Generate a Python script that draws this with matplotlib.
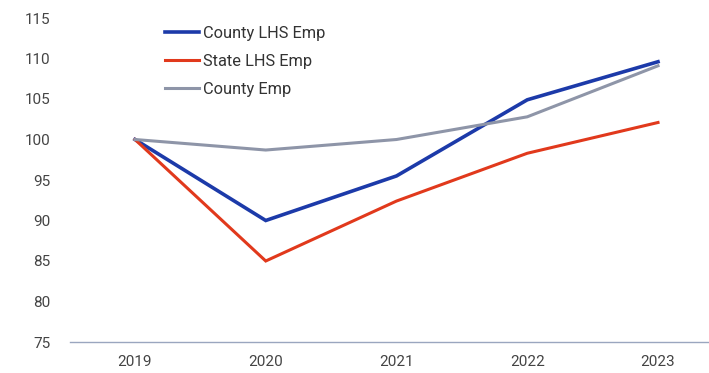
import matplotlib
matplotlib.use("Agg")
import matplotlib.pyplot as plt

years = [2019, 2020, 2021, 2022, 2023]
county_lhs_emp = [100.0, 90.0, 95.5, 104.9, 109.6]
state_lhs_emp = [100.0, 85.0, 92.4, 98.3, 102.1]
county_emp = [100.0, 98.7, 100.0, 102.8, 109.1]
y_ticks = [75, 80, 85, 90, 95, 100, 105, 110, 115]

plt.rcParams['font.family'] = ['Roboto', 'DejaVu Sans']

fig = plt.figure(figsize=(7.09, 3.73), dpi=100)
ax = fig.add_axes([70 / 709, 1 - 342 / 373, 1 - 70 / 709, (342 - 18) / 373])

ax.plot(years, county_lhs_emp, color='#1c3aa9', lw=2.6, label='County LHS Emp', solid_joinstyle='miter')
ax.plot(years, state_lhs_emp, color='#e1391c', lw=2.2, label='State LHS Emp', solid_joinstyle='miter')
ax.plot(years, county_emp, color='#8e95a8', lw=2.2, label='County Emp', solid_joinstyle='miter')

ax.set_xlim(2018.503, 2023.39)
ax.set_ylim(75, 115)
ax.set_xticks(years)
ax.set_yticks(y_ticks)

for s in ['top', 'right', 'left']:
    ax.spines[s].set_visible(False)
ax.spines['bottom'].set_color('#9aa6bf')
ax.spines['bottom'].set_linewidth(1.0)
ax.tick_params(length=0, labelsize=11, labelcolor='#444444')
ax.tick_params(axis='y', pad=14)
ax.tick_params(axis='x', pad=9)

leg = ax.legend(loc='upper left', bbox_to_anchor=(165 / 709, 1 - 25.8 / 373),
                bbox_transform=fig.transFigure, frameon=False,
                borderpad=0, borderaxespad=0,
                handlelength=2.1, handletextpad=0.2, labelspacing=0.8,
                fontsize=11.8)
for t in leg.get_texts():
    t.set_color('#333333')

fig.savefig('out.png', dpi=100)
